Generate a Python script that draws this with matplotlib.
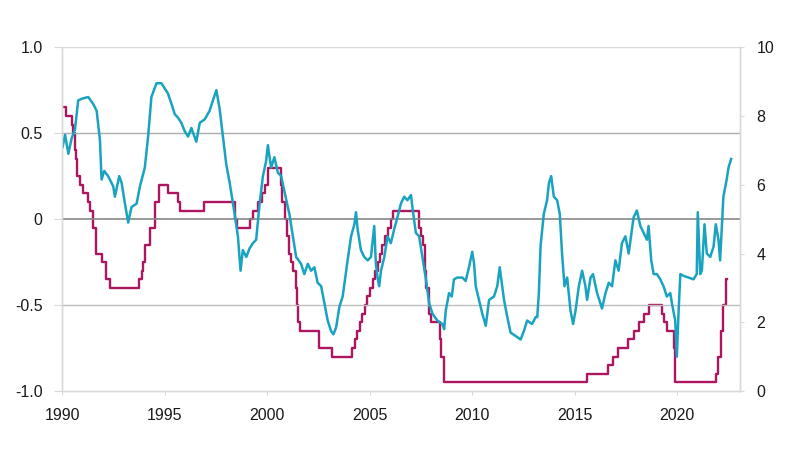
import matplotlib
matplotlib.use("Agg")
import matplotlib.pyplot as plt

plt.rcParams['font.family'] = ['Liberation Sans', 'DejaVu Sans']

# correlation series (left axis)
corr_years = [
    1990.03, 1990.15, 1990.31, 1990.47, 1990.63, 1990.79, 1990.96, 1991.28, 1991.52, 1991.69,
    1991.85, 1991.93, 1992.06, 1992.25, 1992.50, 1992.58, 1992.79, 1992.91, 1993.07, 1993.23,
    1993.39, 1993.64, 1993.80, 1994.04, 1994.20, 1994.36, 1994.61, 1994.85, 1995.17, 1995.34,
    1995.50, 1995.66, 1995.82, 1995.99, 1996.15, 1996.31, 1996.55, 1996.72, 1996.96, 1997.20,
    1997.36, 1997.53, 1997.69, 1997.85, 1998.01, 1998.18, 1998.42, 1998.58, 1998.71, 1998.82,
    1998.99, 1999.15, 1999.31, 1999.47, 1999.64, 1999.80, 1999.96, 2000.04, 2000.20, 2000.36,
    2000.53, 2000.69, 2000.85, 2001.09, 2001.26, 2001.42, 2001.66, 2001.82, 2001.99, 2002.15,
    2002.31, 2002.47, 2002.64, 2002.80, 2002.96, 2003.12, 2003.24, 2003.37, 2003.53, 2003.69,
    2003.93, 2004.10, 2004.26, 2004.34, 2004.42, 2004.58, 2004.74, 2004.91, 2005.07, 2005.23,
    2005.31, 2005.39, 2005.47, 2005.56, 2005.72, 2005.88, 2006.04, 2006.20, 2006.36, 2006.53,
    2006.69, 2006.85, 2007.02, 2007.09, 2007.26, 2007.42, 2007.58, 2007.75, 2007.91, 2008.07,
    2008.31, 2008.55, 2008.64, 2008.72, 2008.88, 2009.01, 2009.12, 2009.28, 2009.53, 2009.69,
    2009.85, 2010.01, 2010.10, 2010.18, 2010.34, 2010.50, 2010.67, 2010.83, 2011.07, 2011.23,
    2011.35, 2011.56, 2011.72, 2011.88, 2012.13, 2012.37, 2012.53, 2012.69, 2012.93, 2013.10,
    2013.18, 2013.26, 2013.34, 2013.50, 2013.66, 2013.75, 2013.86, 2013.99, 2014.15, 2014.28,
    2014.39, 2014.51, 2014.64, 2014.80, 2014.93, 2015.05, 2015.21, 2015.37, 2015.53, 2015.61,
    2015.78, 2015.90, 2016.10, 2016.34, 2016.51, 2016.67, 2016.83, 2016.99, 2017.15, 2017.31,
    2017.48, 2017.64, 2017.80, 2017.88, 2018.04, 2018.21, 2018.37, 2018.53, 2018.61, 2018.74,
    2018.86, 2019.02, 2019.18, 2019.34, 2019.50, 2019.67, 2019.75, 2019.91, 2019.99, 2020.07,
    2020.16, 2020.32, 2020.56, 2020.80, 2020.96, 2021.01, 2021.13, 2021.21, 2021.34, 2021.45,
    2021.62, 2021.78, 2021.89, 2022.02, 2022.10, 2022.18, 2022.26, 2022.42, 2022.51, 2022.64,
]
corr_values = [
    0.42, 0.49, 0.38, 0.47, 0.52, 0.69, 0.70, 0.71, 0.67, 0.63,
    0.46, 0.23, 0.28, 0.25, 0.19, 0.13, 0.25, 0.21, 0.09, -0.02,
    0.07, 0.09, 0.19, 0.30, 0.48, 0.71, 0.79, 0.79, 0.73, 0.67,
    0.61, 0.59, 0.56, 0.51, 0.48, 0.53, 0.45, 0.56, 0.58, 0.63,
    0.69, 0.75, 0.64, 0.48, 0.32, 0.21, 0.03, -0.10, -0.30, -0.18,
    -0.22, -0.17, -0.14, -0.12, 0.09, 0.25, 0.34, 0.43, 0.30, 0.36,
    0.27, 0.25, 0.16, 0.03, -0.10, -0.22, -0.26, -0.32, -0.26, -0.30,
    -0.28, -0.37, -0.39, -0.49, -0.59, -0.65, -0.67, -0.63, -0.51, -0.45,
    -0.24, -0.10, -0.03, 0.04, -0.06, -0.18, -0.22, -0.24, -0.22, -0.04,
    -0.26, -0.34, -0.39, -0.30, -0.22, -0.10, -0.14, -0.06, 0.01, 0.09,
    0.13, 0.11, 0.14, 0.07, -0.08, -0.10, -0.22, -0.35, -0.49, -0.55,
    -0.59, -0.61, -0.64, -0.53, -0.43, -0.45, -0.35, -0.34, -0.34, -0.36,
    -0.28, -0.19, -0.26, -0.39, -0.47, -0.55, -0.62, -0.47, -0.45, -0.39,
    -0.28, -0.47, -0.57, -0.66, -0.68, -0.70, -0.65, -0.59, -0.61, -0.57,
    -0.57, -0.43, -0.16, 0.03, 0.11, 0.21, 0.25, 0.13, 0.11, 0.03,
    -0.20, -0.39, -0.34, -0.53, -0.61, -0.53, -0.39, -0.30, -0.39, -0.47,
    -0.34, -0.32, -0.43, -0.52, -0.43, -0.37, -0.39, -0.24, -0.30, -0.14,
    -0.10, -0.20, -0.06, 0.01, 0.05, -0.04, -0.08, -0.12, -0.04, -0.24,
    -0.32, -0.32, -0.35, -0.39, -0.45, -0.43, -0.49, -0.59, -0.80, -0.55,
    -0.32, -0.33, -0.34, -0.35, -0.32, 0.04, -0.32, -0.30, -0.03, -0.20,
    -0.22, -0.16, -0.03, -0.12, -0.24, -0.06, 0.13, 0.23, 0.30, 0.35,
]

# policy rate (right axis), step changes as placed on the chart
rate_years = [
    1990.00, 1990.21, 1990.50, 1990.54, 1990.63, 1990.69, 1990.75, 1990.86, 1991.00, 1991.27,
    1991.37, 1991.50, 1991.52, 1991.64, 1991.94, 1992.17, 1992.35, 1993.76, 1993.90, 1993.97,
    1994.05, 1994.29, 1994.54, 1994.75, 1995.19, 1995.64, 1995.75, 1996.91, 1998.42, 1998.46,
    1998.55, 1999.17, 1999.32, 1999.55, 1999.75, 1999.89, 2000.05, 2000.68, 2000.75, 2000.89,
    2000.97, 2001.05, 2001.16, 2001.29, 2001.39, 2001.45, 2001.52, 2001.62, 2002.52, 2003.16,
    2004.16, 2004.28, 2004.39, 2004.53, 2004.62, 2004.76, 2004.89, 2005.01, 2005.16, 2005.28,
    2005.39, 2005.51, 2005.62, 2005.75, 2005.89, 2006.03, 2006.16, 2007.39, 2007.50, 2007.62,
    2007.73, 2007.75, 2007.88, 2008.00, 2008.44, 2008.50, 2008.63, 2015.63, 2016.63, 2016.88,
    2017.13, 2017.63, 2017.88, 2018.13, 2018.41, 2018.64, 2019.25, 2019.38, 2019.50, 2019.84,
    2019.88, 2021.88, 2022.01, 2022.13, 2022.24, 2022.39, 2022.45,
]
rate_values = [
    8.25, 8.0, 7.75, 7.5, 7.0, 6.75, 6.25, 6.0, 5.75, 5.5,
    5.25, 5.0, 4.75, 4.0, 3.75, 3.25, 3.0, 3.25, 3.5, 3.75,
    4.25, 4.75, 5.5, 6.0, 5.75, 5.5, 5.25, 5.5, 5.25, 5.0,
    4.75, 5.0, 5.25, 5.5, 5.75, 6.0, 6.5, 6.0, 5.5, 5.0,
    4.5, 4.0, 3.75, 3.5, 3.0, 2.5, 2.0, 1.75, 1.25, 1.0,
    1.25, 1.5, 1.75, 2.0, 2.25, 2.5, 2.75, 3.0, 3.25, 3.5,
    3.75, 4.0, 4.25, 4.5, 4.75, 5.0, 5.25, 4.75, 4.5, 4.25,
    3.5, 3.0, 2.25, 2.0, 1.5, 1.0, 0.25, 0.5, 0.75, 1.0,
    1.25, 1.5, 1.75, 2.0, 2.25, 2.5, 2.25, 2.0, 1.75, 1.25,
    0.25, 0.5, 1.0, 1.75, 2.5, 3.25, 3.25,
]

year_ticks = [1990, 1995, 2000, 2005, 2010, 2015, 2020]
left_ticks = [-1.0, -0.5, 0, 0.5, 1.0]
left_labels = ["-1.0", "-0.5", "0", "0.5", "1.0"]
right_ticks = [0, 2, 4, 6, 8, 10]

teal = "#19a3c0"
magenta = "#ad165e"
light = "#d9d9d9"

fig = plt.figure(figsize=(8, 4.49), dpi=100)
ax = fig.add_axes([0.0775, 0.129, 0.8475, 0.766])
ax2 = ax.twinx()

ax2.step(rate_years, rate_values, where="post", color=magenta, lw=1.7)
ax.plot(corr_years, corr_values, color=teal, lw=1.8)

# correlation on top of the rate line
ax.set_zorder(ax2.get_zorder() + 1)
ax.patch.set_visible(False)

ax.set_xlim(1990, 2023.07)
ax.set_ylim(-1.0, 1.0)
ax2.set_ylim(0, 10)

ax.axhline(0.5, color="#ababab", lw=1.0, zorder=0)
ax.axhline(-0.5, color="#bdbdbd", lw=1.0, zorder=0)
ax.axhline(0, color="#888888", lw=1.2, zorder=0)
ax.axhline(1.0, color=light, lw=1.0, zorder=0)

ax.set_xticks(year_ticks)
ax.set_xticklabels([str(y) for y in year_ticks])
ax.set_yticks(left_ticks)
ax.set_yticklabels(left_labels)
ax2.set_yticks(right_ticks)
ax2.set_yticklabels([str(v) for v in right_ticks])

for a in (ax, ax2):
    for side in a.spines:
        a.spines[side].set_color(light)
        a.spines[side].set_linewidth(1.0)
    a.spines["top"].set_visible(False)

ax.tick_params(axis="x", colors=light, labelcolor="#1a1a1a", labelsize=11.5, length=3, pad=9)
ax.tick_params(axis="y", colors=light, labelcolor="#1a1a1a", labelsize=11.5, length=6, pad=8)
ax2.tick_params(axis="y", colors=light, labelcolor="#1a1a1a", labelsize=11.5, length=3, pad=9)

fig.savefig("out.png", dpi=100, facecolor="white")
